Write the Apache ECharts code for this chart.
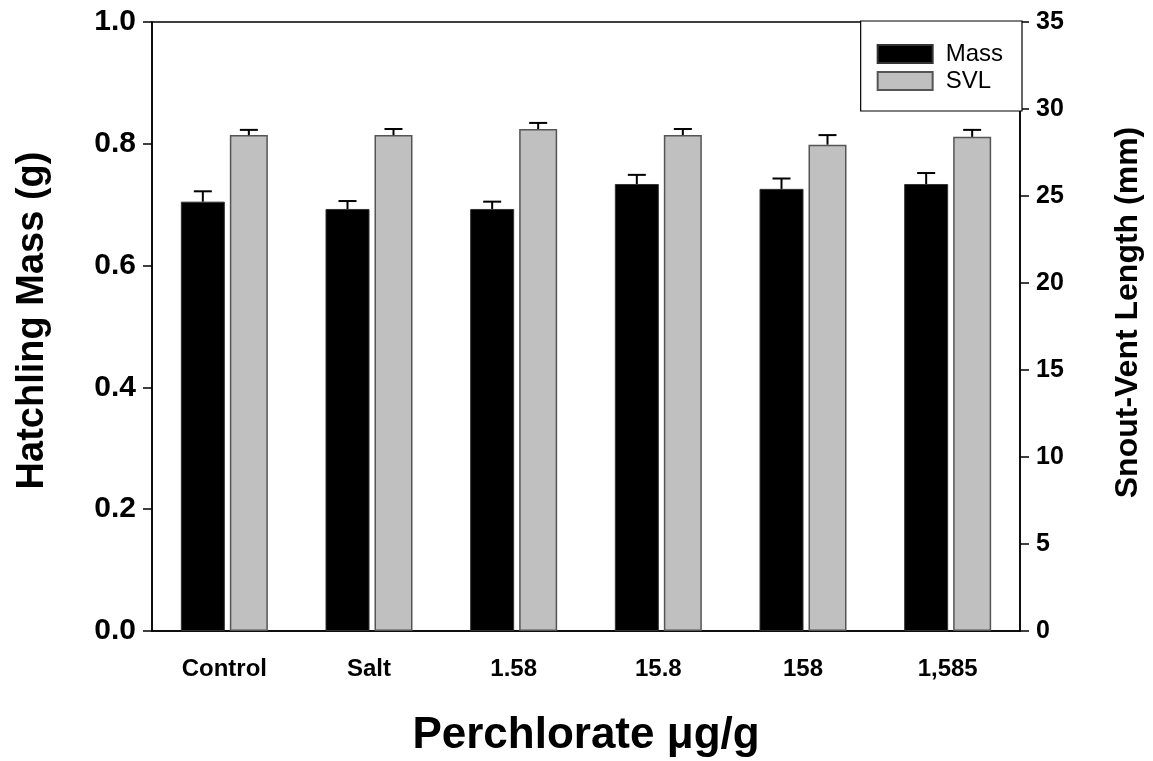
<!DOCTYPE html>
<html>
<head>
<meta charset="utf-8">
<script src="https://cdn.jsdelivr.net/npm/echarts@6/dist/echarts.min.js"></script>
<style>
    html, body { margin: 0; padding: 0; background: #fff; }
    #chart { width: 1153px; height: 761px; }
</style>
</head>
<body>
<div id="chart"></div>
<script>
    // 数据
    var categories = ['Control', 'Salt', '1.58', '15.8', '158', '1,585'];
    var massMean = [0.705, 0.693, 0.693, 0.734, 0.726, 0.734];
    var massErr = [0.017, 0.013, 0.012, 0.015, 0.017, 0.018];
    var svlMean = [28.5, 28.5, 28.85, 28.5, 27.95, 28.4];
    var svlErr = [0.3, 0.35, 0.35, 0.35, 0.55, 0.4];
    var leftTicks = [0, 0.2, 0.4, 0.6, 0.8, 1.0];
    var rightTicks = [0, 5, 10, 15, 20, 25, 30, 35];

    var FONT = 'Liberation Sans, Arial, sans-serif';
    var massWidth = 44;
    var svlWidth = 38;
    var gapPx = 5;
    var total = massWidth + gapPx + svlWidth;
    var massOffset = -total / 2 + massWidth / 2;
    var svlOffset = total / 2 - svlWidth / 2;

    function errData(mean, err) {
        var out = [];
        for (var i = 0; i < mean.length; i++) {
            out.push([i, mean[i], mean[i] + err[i]]);
        }
        return out;
    }

    // 误差线 (只画上半部分)
    function errRender(offset) {
        return function(params, api) {
            var low = api.coord([api.value(0), api.value(1)]);
            var high = api.coord([api.value(0), api.value(2)]);
            var x = low[0] + offset;
            var half = 9;
            var style = { stroke: '#000', lineWidth: 2 };
            return {
                type: 'group',
                children: [
                    { type: 'line', shape: { x1: x, y1: low[1], x2: x, y2: high[1] }, style: style },
                    { type: 'line', shape: { x1: x - half, y1: high[1], x2: x + half, y2: high[1] }, style: style }
                ]
            };
        };
    }

    var myChart = echarts.init(document.getElementById('chart'));

    var option = {
        animation: false,
        backgroundColor: '#fff',
        textStyle: { fontFamily: FONT },
        grid: {
            left: 152, right: 133, top: 22, bottom: 130,
            outerBoundsMode: 'none',
            containLabel: false,
            show: true, borderColor: '#000', borderWidth: 1.5
        },
        legend: {
            orient: 'vertical',
            right: 131,
            top: 21,
            padding: [21, 19, 18, 16],
            itemGap: 3,
            itemWidth: 55,
            itemHeight: 18,
            icon: 'rect',
            borderColor: '#000',
            borderWidth: 1.2,
            backgroundColor: '#fff',
            textStyle: { fontSize: 24, lineHeight: 18, fontFamily: FONT, color: '#000', padding: [0, 0, 0, 8] },
            data: ['Mass', 'SVL']
        },
        xAxis: {
            type: 'category',
            data: categories,
            name: 'Perchlorate \u03bcg/g',
            nameLocation: 'middle',
            nameGap: 83,
            nameTextStyle: { fontSize: 44, fontWeight: 'bold', color: '#000', fontFamily: FONT },
            axisLine: { lineStyle: { color: '#000', width: 1.5 } },
            axisTick: { alignWithLabel: true, length: 9, lineStyle: { color: '#000', width: 1.5 } },
            axisLabel: { fontSize: 24, fontWeight: 'bold', color: '#000', margin: 26 }
        },
        yAxis: [{
            type: 'value',
            min: 0, max: 1, interval: 0.2,
            name: 'Hatchling Mass (g)',
            nameLocation: 'middle',
            nameGap: 100,
            nameTextStyle: { fontSize: 38, fontWeight: 'bold', color: '#000', fontFamily: FONT, padding: [0, 0, 0, 12] },
            axisLine: { show: true, lineStyle: { color: '#000', width: 1.5 } },
            axisTick: { show: true, length: 9, lineStyle: { color: '#000', width: 1.5 } },
            axisLabel: {
                fontSize: 30, fontWeight: 'bold', color: '#000', margin: 16,
                formatter: function(v) { return v.toFixed(1); }
            },
            splitLine: { show: false }
        }, {
            type: 'value',
            min: 0, max: 35, interval: 5,
            name: 'Snout-Vent Length (mm)',
            nameLocation: 'middle',
            nameGap: 92,
            nameRotate: 90,
            nameTextStyle: { fontSize: 32, fontWeight: 'bold', color: '#000', fontFamily: FONT, padding: [0, 0, 0, 28] },
            axisLine: { show: true, lineStyle: { color: '#000', width: 1.5 } },
            axisTick: { show: true, length: 9, lineStyle: { color: '#000', width: 1.5 } },
            axisLabel: { fontSize: 25, fontWeight: 'bold', color: '#000', margin: 16 },
            splitLine: { show: false }
        }],
        series: [{
            name: 'Mass',
            type: 'bar',
            yAxisIndex: 0,
            data: massMean,
            barWidth: massWidth,
            barGap: (gapPx / massWidth * 100) + '%',
            itemStyle: { color: '#000', borderColor: '#333', borderWidth: 1 }
        }, {
            name: 'SVL',
            type: 'bar',
            yAxisIndex: 1,
            data: svlMean,
            barWidth: svlWidth,
            itemStyle: { color: '#c0c0c0', borderColor: '#555', borderWidth: 1.5 }
        }, {
            type: 'custom',
            yAxisIndex: 0,
            renderItem: errRender(massOffset),
            data: errData(massMean, massErr),
            z: 5
        }, {
            type: 'custom',
            yAxisIndex: 1,
            renderItem: errRender(svlOffset),
            data: errData(svlMean, svlErr),
            z: 5
        }]
    };
    myChart.setOption(option);
</script>
</body>
</html>
